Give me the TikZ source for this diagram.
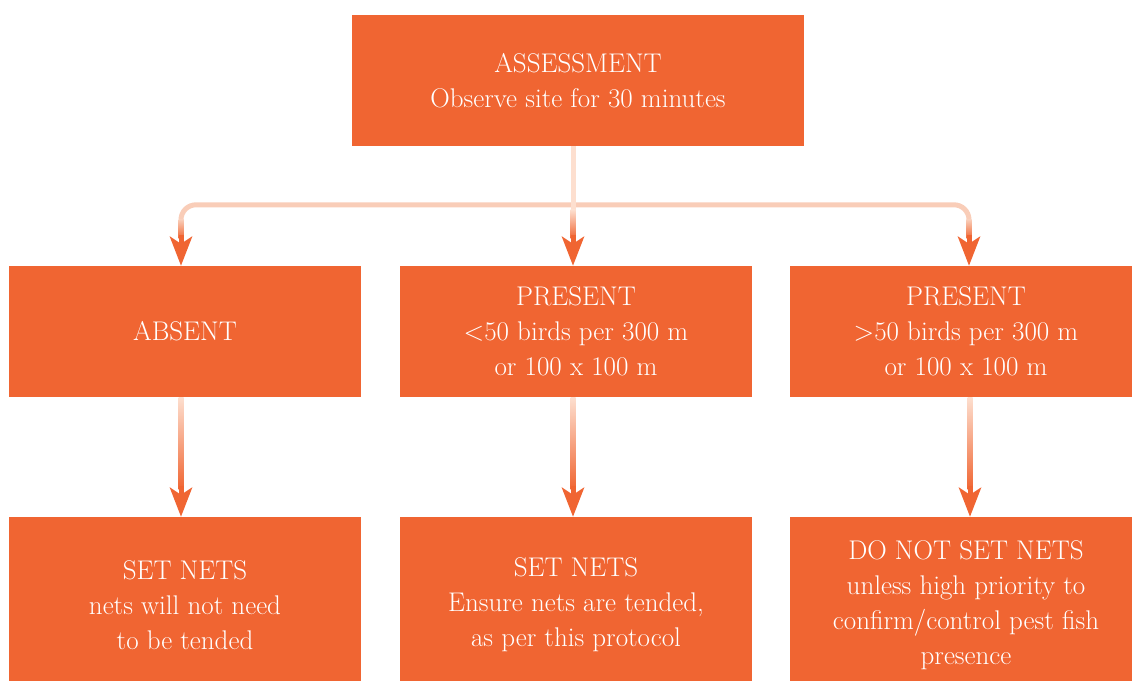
\documentclass[tikz,border=0pt]{standalone}
\usepackage{fontspec}
\usetikzlibrary{arrows.meta,calc}
\definecolor{boxorange}{HTML}{F06532}
\definecolor{peachlight}{HTML}{FDDFCF}
\definecolor{peach}{HTML}{F9CDB8}
\tikzset{
  box/.style={fill=boxorange, text=white, inner sep=0pt, minimum height=131pt,
    minimum width=352pt, align=center, font=\fontsize{27}{35}\selectfont},
  bus/.style={draw=peach, line width=5pt, rounded corners=15pt},
  tipline/.style={draw=boxorange, line width=5pt, -{Stealth[length=29pt,width=22pt,inset=7pt]}},
}
\begin{document}
\begin{tikzpicture}[x=1pt,y=1pt]
\useasboundingbox (0,0) rectangle (1132,680);
\clip (0,0) rectangle (1132,680);
% nodes
\node[box, minimum width=452pt] (top) at (578,599.5) {ASSESSMENT\\Observe site for 30 minutes};
\node[box] (l2) at (185,348.5) {ABSENT};
\node[box] (m2) at (576,348.5) {PRESENT\\<50 birds per 300 m\\or 100 x 100 m};
\node[box] (r2) at (966,348.5) {PRESENT\\>50 birds per 300 m\\or 100 x 100 m};
\node[box, minimum height=176pt] (l3) at (185,75) {SET NETS\\nets will not need\\to be tended};
\node[box, minimum height=176pt] (m3) at (576,75) {SET NETS\\Ensure nets are tended,\\as per this protocol};
\node[box, minimum height=176pt] (r3) at (966,75) {DO NOT SET NETS\\unless high priority to\\confirm/control pest fish\\presence};
% arrow end points
\coordinate (aL) at ([xshift=-4pt]l2.north);
\coordinate (aM) at ([xshift=-3pt]m2.north);
\coordinate (aR) at ([xshift=3pt]r2.north);
\coordinate (bL) at ([xshift=-4pt]l3.north);
\coordinate (bM) at ([xshift=-3pt]m3.north);
\coordinate (bR) at ([xshift=4pt]r3.north);
% bus from top box
\draw[bus] ($(aL)+(0,46)$) -- ($(aL)+(0,61)$) -- ($(aR)+(0,61)$) -- ($(aR)+(0,46)$);
\fill[peachlight] ($(aM |- top.south)+(-2.5,0)$) rectangle ($(aM)+(2.5,56)$);
\shade[top color=peachlight, bottom color=boxorange] ($(aM)+(-2.5,56)$) rectangle ($(aM)+(2.5,27)$);
\shade[top color=peach, bottom color=boxorange] ($(aL)+(-2.5,46)$) rectangle ($(aL)+(2.5,27)$);
\shade[top color=peach, bottom color=boxorange] ($(aR)+(-2.5,46)$) rectangle ($(aR)+(2.5,27)$);
\draw[tipline] ($(aL)+(0,31)$) -- (aL);
\draw[tipline] ($(aM)+(0,31)$) -- (aM);
\draw[tipline] ($(aR)+(0,31)$) -- (aR);
% second level
\foreach \b/\s in {bL/l2, bM/m2, bR/r2}{
  \shade[top color=peachlight, bottom color=boxorange] ($(\b |- \s.south)+(-2.5,0)$) rectangle ($(\b)+(2.5,27)$);
  \draw[tipline] ($(\b)+(0,31)$) -- (\b);
}
\end{tikzpicture}
\end{document}
